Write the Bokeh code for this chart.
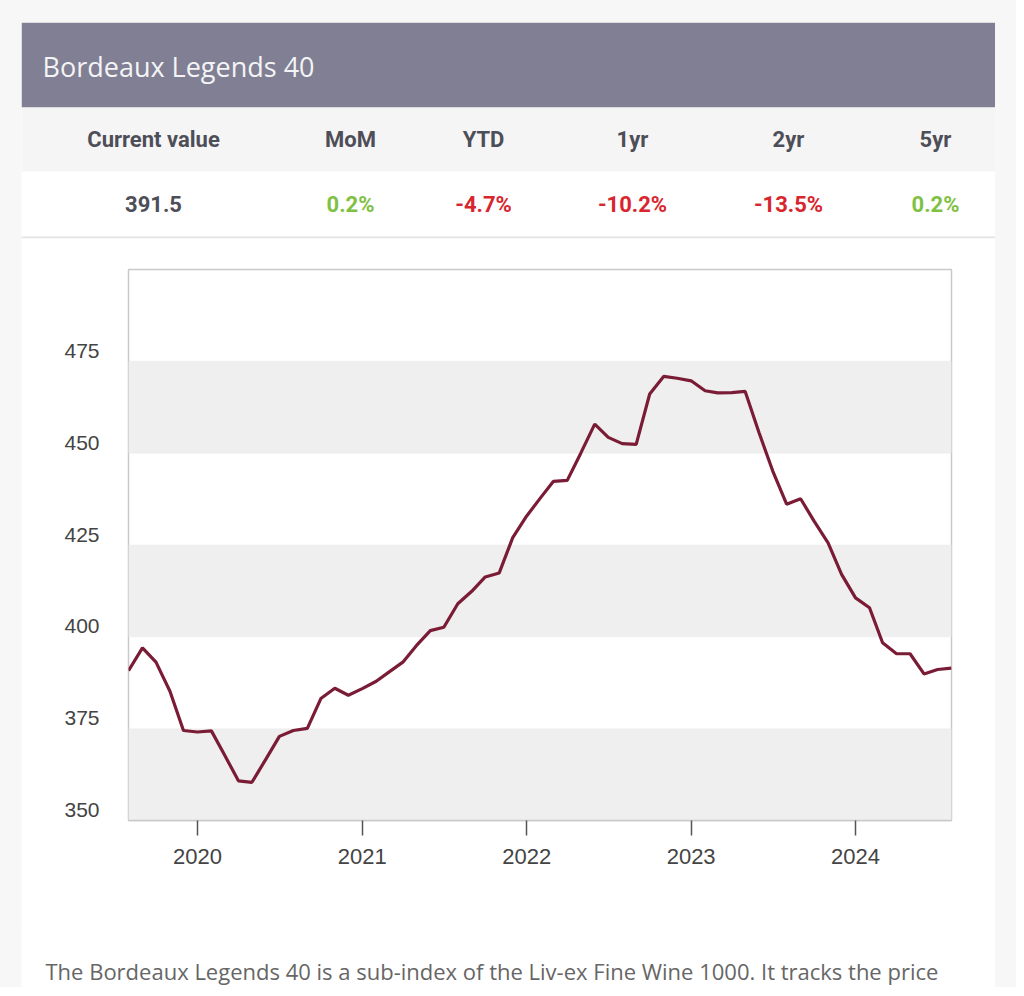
import pandas as pd
from bokeh.plotting import figure
from bokeh.layouts import column
from bokeh.models import (Range1d, BoxAnnotation, FixedTicker, LinearAxis,
                          DatetimeTickFormatter, ColumnDataSource)
from bokeh.core.properties import value
from bokeh.embed import file_html
from bokeh.resources import INLINE

# ---------------- data ----------------
TITLE = "Bordeaux Legends 40"
START_MONTH = "2019-08-01"
INDEX_VALUES = [
    390.8, 397.0, 393.1, 385.2, 374.5,                                   # 2019 Aug-Dec
    374.1, 374.4, 367.9, 360.8, 360.4, 366.7, 372.9, 374.5, 375.1, 383.2, 386.0, 384.1,  # 2020
    385.9, 387.9, 390.4, 393.1, 397.6, 401.7, 402.6, 409.0, 412.4, 416.3, 417.4, 427.0,  # 2021
    432.9, 437.9, 442.3, 442.6, 450.0, 457.9, 454.3, 452.6, 452.4, 466.1, 470.9, 470.4,  # 2022
    469.7, 467.0, 466.4, 466.5, 466.8, 455.5, 445.2, 436.1, 437.6, 431.5, 425.6, 417.0,  # 2023
    410.6, 407.9, 398.4, 395.4, 395.4, 389.9, 391.1, 391.5,              # 2024 Jan-Aug
]
Y_TICKS = [350, 375, 400, 425, 450, 475, 500]
X_TICK_YEARS = [2020, 2021, 2022, 2023, 2024]
TABLE_HEADERS = ["Current value", "MoM", "YTD", "1yr", "2yr", "5yr"]
TABLE_VALUES = ["391.5", "0.2%", "-4.7%", "-10.2%", "-13.5%", "0.2%"]
DESCRIPTION = ("The Bordeaux Legends 40 is a sub-index of the Liv-ex Fine Wine 1000. "
               "It tracks the price")

# ---------------- layout / style ----------------
CARD_W = 974
MARGIN_L, MARGIN_R, MARGIN_T = 21, 21, 22
TOP_H, CHART_H, TEXT_H = 216, 692, 58
HEADER_H, THEAD_H, TVAL_H = 85, 64, 65
COL_X = [132, 329, 462, 611, 767, 914]
LINE_COLOR = "#7a1c36"
BAND_COLOR = "#efefef"
HEADER_BG = "#807f93"
GREEN, RED, GREY_TXT = "#7fc143", "#d8262e", "#4e4e58"
AXIS_FONT = "Liberation Sans"
LABEL_LIFT_PX = 10.5


def furniture_fig(h, bg):
    f = figure(width=CARD_W, height=h, x_range=Range1d(0, CARD_W),
               y_range=Range1d(h, 0), x_axis_type=None, y_axis_type=None,
               output_backend="svg", toolbar_location=None, min_border=0)
    f.background_fill_color = bg
    f.border_fill_color = bg
    f.outline_line_color = None
    f.grid.visible = False
    return f


def band(f, top, bottom, color, level="underlay"):
    f.add_layout(BoxAnnotation(top=top, bottom=bottom, fill_color=color,
                               fill_alpha=1.0, line_color=None, level=level))


# ---- header + table ----
top = furniture_fig(TOP_H, "white")
band(top, 0, HEADER_H, HEADER_BG)
band(top, HEADER_H, HEADER_H + THEAD_H, "#f5f5f5")
band(top, HEADER_H + THEAD_H + TVAL_H, TOP_H, "#e3e3e3")
top.text(x=[21], y=[HEADER_H / 2 + 1], text=[TITLE], text_font=value("Open Sans"),
         text_font_size="27px", text_color="#f4f4f6", text_align="left",
         text_baseline="middle")
top.text(x=COL_X, y=[HEADER_H + THEAD_H / 2] * len(COL_X), text=TABLE_HEADERS,
         text_font=value("Roboto"), text_font_style="bold", text_font_size="22px",
         text_color=GREY_TXT, text_align="center", text_baseline="middle")
val_colors = [GREY_TXT] + [RED if v.startswith("-") else GREEN for v in TABLE_VALUES[1:]]
top.text(x=COL_X, y=[HEADER_H + THEAD_H + TVAL_H / 2] * len(COL_X), text=TABLE_VALUES,
         text_font=value("Roboto"), text_font_style="bold", text_font_size="22px",
         text_color=val_colors, text_align="center", text_baseline="middle")

# ---- chart ----
dates = pd.date_range(START_MONTH, periods=len(INDEX_VALUES), freq="MS")
src = ColumnDataSource(dict(date=dates, value=INDEX_VALUES))

BORDER_T, BORDER_B, BORDER_L, BORDER_R = 31, 110, 107, 44
frame_h = CHART_H - BORDER_T - BORDER_B
p = figure(width=CARD_W, height=CHART_H, x_axis_type="datetime",
           x_range=Range1d(dates[0], dates[-1]),
           y_range=Range1d(Y_TICKS[0], Y_TICKS[-1]), y_axis_location=None,
           output_backend="svg", toolbar_location=None,
           min_border_left=BORDER_L, min_border_right=BORDER_R,
           min_border_top=BORDER_T, min_border_bottom=BORDER_B)
p.border_fill_color = "white"
p.background_fill_color = "white"
p.outline_line_color = "#c9c9c9"
p.outline_line_width = 1.5
p.grid.visible = False

for lo, hi in zip(Y_TICKS[0::2], Y_TICKS[1::2]):
    p.add_layout(BoxAnnotation(bottom=lo, top=hi, fill_color=BAND_COLOR,
                               fill_alpha=1.0, line_color="#e6e6e6",
                               line_width=1, level="underlay"))

p.line("date", "value", source=src, color=LINE_COLOR, line_width=3.2)

# y axis: labels sit slightly above their band edge, as in the reference
lift = LABEL_LIFT_PX * (Y_TICKS[-1] - Y_TICKS[0]) / frame_h
p.extra_y_ranges["labels"] = Range1d(Y_TICKS[0] - lift, Y_TICKS[-1] - lift)
yax = LinearAxis(y_range_name="labels", ticker=FixedTicker(ticks=Y_TICKS))
yax.axis_line_color = None
yax.major_tick_line_color = None
yax.minor_tick_line_color = None
yax.major_label_standoff = 23
yax.major_label_text_font = AXIS_FONT
yax.major_label_text_font_size = "21px"
yax.major_label_text_color = "#444444"
p.add_layout(yax, "left")

year_ticks = [pd.Timestamp(f"{y}-01-01").value / 1e6 for y in X_TICK_YEARS]
p.xaxis.ticker = FixedTicker(ticks=year_ticks)
p.xaxis.formatter = DatetimeTickFormatter(years="%Y", months="%Y", days="%Y")
p.xaxis.axis_line_color = "#c9c9c9"
p.xaxis.axis_line_width = 1.5
p.xaxis.major_tick_out = 15
p.xaxis.major_tick_in = 0
p.xaxis.major_tick_line_color = "#555555"
p.xaxis.major_tick_line_width = 1.5
p.xaxis.minor_tick_line_color = None
p.xaxis.major_label_standoff = 13
p.xaxis.major_label_text_font = AXIS_FONT
p.xaxis.major_label_text_font_size = "22px"
p.xaxis.major_label_text_color = "#444444"

# ---- description ----
txt = furniture_fig(TEXT_H, "white")
txt.text(x=[24], y=[41], text=[DESCRIPTION], text_font=value("Open Sans"),
         text_font_size="22px", text_color="#666666", text_align="left",
         text_baseline="middle")

top.margin = (MARGIN_T, MARGIN_R, 0, MARGIN_L)
p.margin = (0, MARGIN_R, 0, MARGIN_L)
txt.margin = (-1, MARGIN_R, 0, MARGIN_L)

root = column(column(top), column(p), column(txt), spacing=0,
              styles={"background-color": "#f7f7f7"})

open("out.html", "w").write(file_html(root, INLINE))
